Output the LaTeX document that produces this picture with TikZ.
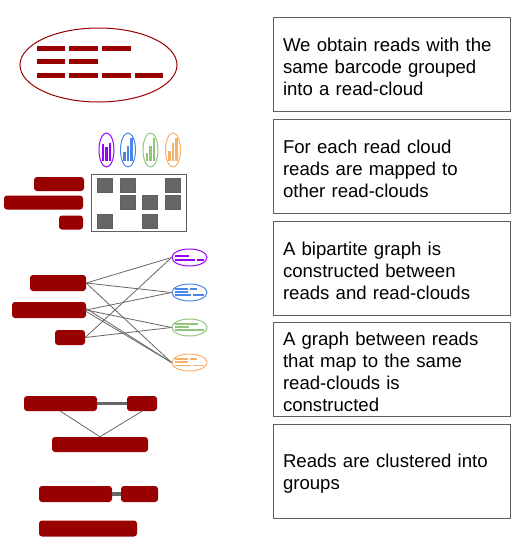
\documentclass[tikz,border=0pt]{standalone}
\usepackage{fontspec}
\setmainfont{Liberation Sans}
\usetikzlibrary{shapes.geometric}
\definecolor{readred}{HTML}{990000}
\definecolor{edgegray}{HTML}{666666}
\definecolor{boxgray}{HTML}{5F5F5F}
\definecolor{cpurple}{HTML}{9900FF}
\definecolor{cblue}{HTML}{4A86E8}
\definecolor{cgreen}{HTML}{93C47D}
\definecolor{corange}{HTML}{F6B26B}
\begin{document}
\begin{tikzpicture}[x=1pt,y=-1pt,
  read/.style={fill=readred, rounded corners=3pt, inner sep=0pt, minimum height=15pt},
  seg/.style={fill=readred, inner sep=0pt, minimum height=5pt},
  stepbox/.style={draw=boxgray, line width=1pt, minimum width=237pt, minimum height=94pt, inner sep=0pt},
  steptext/.style={text width=217pt, inner sep=0pt, align=left,
    font=\fontsize{18.6}{22}\selectfont},
  link/.style={draw=edgegray, line width=0.8pt},
  bond/.style={draw=edgegray, line width=3.2pt},
  cloud/.style={ellipse, draw=#1, line width=1pt, minimum width=35pt, minimum height=17pt, inner sep=0pt},
  tag/.style={ellipse, draw=#1, line width=1pt, minimum width=15pt, minimum height=34pt, inner sep=0pt},
  cell/.style={fill=edgegray, draw=boxgray, line width=0.5pt, minimum width=15pt, minimum height=14pt, inner sep=0pt}
]
\useasboundingbox (0,0) rectangle (516,538);

% ---------- explanation boxes ----------
\node[stepbox] (s1) at (391.5,64)  {};
\node[stepbox] (s2) at (391.5,166) {};
\node[stepbox] (s3) at (391.5,268) {};
\node[stepbox] (s4) at (391.5,369) {};
\node[stepbox] (s5) at (391.5,471) {};
\node[steptext] (s1t) at ([yshift=-2.5pt]s1.center) {We obtain reads with the\\same barcode grouped\\into a read-cloud};
\node[steptext] (s2t) at ([yshift=-2.5pt]s2.center) {For each read cloud\\reads are mapped to\\other read-clouds};
\node[steptext] (s3t) at ([yshift=-2.5pt]s3.center) {A bipartite graph is\\constructed between\\reads and read-clouds};
\node[steptext] (s4t) at ([yshift=-2.5pt]s4.center) {A graph between reads\\that map to the same\\read-clouds is\\constructed};
\node[steptext] (s5t) at ([yshift=-2.5pt]s5.center) {Reads are clustered into\\groups};

% ---------- step 1: a read-cloud ----------
\draw[readred, line width=1pt] (98.5,65) ellipse [x radius=78.5pt, y radius=37pt];
\foreach \cx/\n in {51/a,83.5/b,116.5/c}{\node[seg, minimum width=28.5pt] (rc1\n) at (\cx,48.5) {};}
\foreach \cx/\n in {51/a,83.5/b}{\node[seg, minimum width=28.5pt] (rc2\n) at (\cx,61.5) {};}
\foreach \cx/\n in {51/a,83.5/b,116.5/c,149/d}{\node[seg, minimum width=28.5pt] (rc3\n) at (\cx,75) {};}

% ---------- step 2: reads mapped to read-clouds ----------
\node[tag=cpurple] (t1) at (106.5,150) {};
\node[tag=cblue]   (t2) at (128,150) {};
\node[tag=cgreen]  (t3) at (150.5,150) {};
\node[tag=corange] (t4) at (173,150) {};
\foreach \col/\cx/\ha/\hb/\hc in {cpurple/106.5/144/147/143, cblue/128/152/146/138,
                                  cgreen/150.5/153/146/138, corange/173/151/143/138}{
  \fill[\col] (\cx-4.6,\ha) rectangle (\cx-2.2,161);
  \fill[\col] (\cx-1.2,\hb) rectangle (\cx+1.2,161);
  \fill[\col] (\cx+2.2,\hc) rectangle (\cx+4.6,161);
}
\node[draw=boxgray, line width=1pt, minimum width=95pt, minimum height=57pt, inner sep=0pt] (grid) at (138.5,202.5) {};
\node[cell] (g11) at (105,185) {};
\node[cell] (g12) at (127.5,185) {};
\node[cell] (g14) at (173,185) {};
\node[cell] (g22) at (127.5,202.5) {};
\node[cell] (g23) at (149.5,202.5) {};
\node[cell] (g24) at (173,202.5) {};
\node[cell] (g31) at (105,221) {};
\node[cell] (g33) at (149.5,221) {};
\node[read, minimum width=50pt, minimum height=14pt] (m1) at (59,184) {};
\node[read, minimum width=79pt, minimum height=14pt] (m2) at (43.5,202.5) {};
\node[read, minimum width=24pt, minimum height=14pt] (m3) at (71,222.5) {};

% ---------- step 3: bipartite graph ----------
\node[read, minimum width=56pt, minimum height=16pt] (p1) at (58,283) {};
\node[read, minimum width=74pt, minimum height=16pt] (p2) at (49,310) {};
\node[read, minimum width=30pt, minimum height=15pt] (p3) at (70,337.5) {};
\node[cloud=cpurple] (q1) at (189.5,257.5) {};
\node[cloud=cblue]   (q2) at (189.5,292.5) {};
\node[cloud=cgreen]  (q3) at (189.5,327.5) {};
\node[cloud=corange] (q4) at (189.5,362.5) {};
% contents of the small clouds
\fill[cpurple] (175,255.2) rectangle (189,256.8);
\fill[cpurple] (175,259.2) rectangle (195,260.8);
\fill[cpurple] (197,259.2) rectangle (204,260.8);
\fill[cblue] (175,288) rectangle (188,289.6);
\fill[cblue] (190,288) rectangle (197,289.6);
\fill[cblue] (175,291.2) rectangle (188,292.8);
\fill[cblue] (175,294.4) rectangle (191,296);
\fill[cblue] (192.5,294.4) rectangle (204,296);
\fill[cgreen] (175,323) rectangle (198,324.5);
\fill[cgreen] (175,326) rectangle (189,327.5);
\fill[cgreen] (175,329) rectangle (204,330.5);
\fill[corange] (175,358) rectangle (188,359.5);
\fill[corange] (190,358) rectangle (197,359.5);
\fill[corange] (175,361) rectangle (188,362.5);
\fill[corange] (175,364.5) rectangle (191,365.5);
\fill[corange] (192.5,364.5) rectangle (204,365.5);
% edges
\draw[link] (p1.east) -- (q1.west);
\draw[link] (p1.east) -- (q2.west);
\draw[link] (p1.east) -- (q4.west);
\draw[link] (p2.east) -- (q2.west);
\draw[link] (p2.east) -- (q3.west);
\draw[link] ([yshift=-1.5pt]p2.east) -- (q4.west);
\draw[link] ([yshift=1.5pt]p2.east) -- (q4.west);
\draw[link] (p3.east) -- (q1.west);
\draw[link] (p3.east) -- (q3.west);

% ---------- step 4: read graph ----------
\node[read, minimum width=73pt] (ga) at (60.5,403.5) {};
\node[read, minimum width=30pt] (gb) at (142,403.5) {};
\node[read, minimum width=96pt] (gc) at (100,444.5) {};
\draw[bond] (ga.east) -- (gb.west);
\draw[link] (ga.south) -- (gc.north);
\draw[link] (gb.south) -- (gc.north);

% ---------- step 5: clusters ----------
\node[read, minimum width=73pt, minimum height=16pt] (ca) at (75.5,494) {};
\node[read, minimum width=37pt, minimum height=16pt] (cb) at (139.5,494) {};
\node[read, minimum width=98pt, minimum height=16pt] (cc) at (88,528.5) {};
\draw[bond] (ca.east) -- (cb.west);
\end{tikzpicture}
\end{document}
